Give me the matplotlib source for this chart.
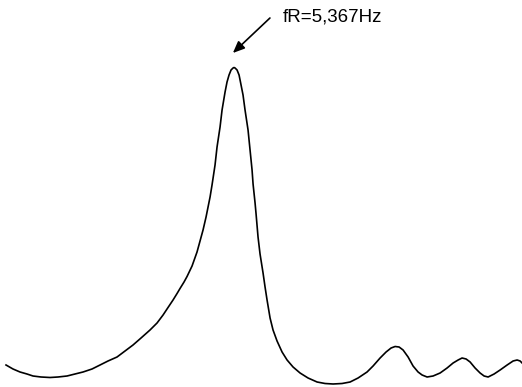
import matplotlib.pyplot as plt
import numpy as np

# frequency (Hz) and response amplitude (arbitrary units)
freq = [0.138, 0.298, 0.459, 0.619, 0.757, 0.940, 1.147, 1.330, 1.537, 1.720,
        1.904, 2.110, 2.294, 2.477, 2.684, 2.867, 3.050, 3.234, 3.440, 3.601,
        3.739, 3.853, 3.968, 4.060, 4.128, 4.220, 4.289, 4.404, 4.518, 4.587,
        4.656, 4.725, 4.771, 4.817, 4.862, 4.931, 4.977, 5.046, 5.092, 5.161,
        5.206, 5.252, 5.298, 5.344, 5.367, 5.390, 5.436, 5.482, 5.505, 5.573,
        5.619, 5.688, 5.734, 5.780, 5.803, 5.849, 5.872, 5.917, 5.963, 6.032,
        6.078, 6.124, 6.193, 6.261, 6.353, 6.468, 6.583, 6.720, 6.881, 7.064,
        7.271, 7.454, 7.638, 7.844, 8.028, 8.211, 8.417, 8.555, 8.716, 8.853,
        8.968, 9.060, 9.151, 9.243, 9.358, 9.472, 9.587, 9.679, 9.794, 9.931,
        10.092, 10.252, 10.390, 10.505, 10.596, 10.688, 10.780, 10.894, 11.009, 11.101,
        11.193, 11.330, 11.468, 11.629, 11.766, 11.858, 11.927, 11.972]
amp = [22, 18, 15, 13, 11, 10, 9.5, 10, 11, 13,
       15, 18, 22, 26, 30, 36, 42, 49, 57, 64,
       72, 79.5, 87, 93.5, 98.5, 105, 110.5, 121, 135, 146,
       157, 170, 180, 190, 202, 222, 240, 260, 277, 295,
       305, 312, 317, 319, 319.5, 319, 317, 312, 307, 292,
       277, 257, 237, 217, 203, 184, 173, 150, 133, 114,
       100, 87, 69, 57, 46, 35, 27, 20, 14, 9,
       5, 3.5, 3, 3.5, 5, 9, 15, 21, 29, 35,
       39, 40.5, 40, 37, 30, 21, 15, 12, 10, 11,
       14, 19, 24, 27, 29, 28, 25, 19, 14, 11,
       10, 13, 17, 22, 26, 27, 26, 24]

f_res = 5.367
label = "fR=5,367Hz"

fig = plt.figure(figsize=(5.22, 3.87), dpi=100)
ax = fig.add_axes([0, 0, 1, 1])
ax.plot(freq, amp, color="black", lw=1.2, solid_joinstyle="round")

ax.annotate("", xy=(5.34, 334), xytext=(6.19, 369),
            arrowprops=dict(arrowstyle="-|>,head_length=0.7,head_width=0.3",
                            color="black", lw=1.2, shrinkA=0, shrinkB=0))
ax.text(6.49, 365, label, fontsize=13.5, family="Liberation Sans",
        ha="left", va="baseline", color="black")

ax.set_xlim(0, 11.97)
ax.set_ylim(0, 387)
ax.axis("off")
fig.savefig("out.png", dpi=100, facecolor="white")
